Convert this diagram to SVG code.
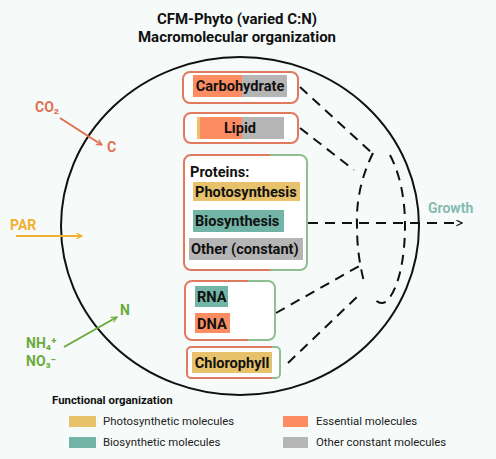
<svg xmlns="http://www.w3.org/2000/svg" width="496" height="459" viewBox="0 0 496 459">
<defs>
<style>
text{font-family:Roboto,"Liberation Sans",sans-serif;}
.title{font-size:15px;font-weight:bold;fill:#111;text-anchor:middle;}
.lbl{font-size:14.6px;font-weight:bold;fill:#111;}
.box{fill:#fff;stroke-width:2;}
.dash{fill:none;stroke:#111;stroke-width:2;stroke-dasharray:10 7;}
.leg{font-size:11.4px;fill:#222;}
.or{fill:#fc8d62;} .gy{fill:#b5b5b5;} .ye{fill:#e8c26a;} .te{fill:#72b5a7;}
</style>
<linearGradient id="g70" x1="0" y1="0" x2="1" y2="0"><stop offset="0.70" stop-color="#e07a5f"/><stop offset="0.70" stop-color="#8fbf90"/></linearGradient>
<linearGradient id="g91" x1="0" y1="0" x2="1" y2="0"><stop offset="0.91" stop-color="#e07a5f"/><stop offset="0.91" stop-color="#8fbf90"/></linearGradient>
<marker id="ak" viewBox="0 0 10 10" refX="9" refY="5" markerWidth="7" markerHeight="7" orient="auto" markerUnits="userSpaceOnUse"><path d="M1,1 L9,5 L1,9" fill="none" stroke="#111" stroke-width="1.6"/></marker>
<marker id="ao" viewBox="0 0 10 10" refX="9" refY="5" markerWidth="7" markerHeight="7" orient="auto" markerUnits="userSpaceOnUse"><path d="M1,1 L9,5 L1,9" fill="none" stroke="#e07050" stroke-width="1.6"/></marker>
<marker id="ay" viewBox="0 0 10 10" refX="9" refY="5" markerWidth="7" markerHeight="7" orient="auto" markerUnits="userSpaceOnUse"><path d="M1,1 L9,5 L1,9" fill="none" stroke="#f0b030" stroke-width="1.6"/></marker>
<marker id="ag" viewBox="0 0 10 10" refX="9" refY="5" markerWidth="7" markerHeight="7" orient="auto" markerUnits="userSpaceOnUse"><path d="M1,1 L9,5 L1,9" fill="none" stroke="#6aaa3a" stroke-width="1.6"/></marker>
</defs>
<rect width="496" height="459" fill="#f6faf9"/>
<text class="title" x="237" y="24">CFM-Phyto (varied C:N)</text>
<text class="title" x="237" y="42">Macromolecular organization</text>
<ellipse id="cell" cx="240" cy="226" rx="179" ry="169" fill="none" stroke="#111" stroke-width="2"/>

<g id="connectors">
<path class="dash" d="M300,87 L371,152"/>
<path class="dash" d="M300,128 L354,170"/>
<path class="dash" d="M373,153 C362,175 356,200 357,225 C357,250 360,265 364,282"/>
<path class="dash" d="M390,155 C402,178 405,205 405,225 C405,255 400,285 388,300 C383,305 377,303 374,298"/>
<path class="dash" d="M276,313 L361,265"/>
<path class="dash" d="M288,363 L357,297"/>
<path class="dash" d="M308,223 L462,223" marker-end="url(#ak)"/>
<path d="M60,118 L102,145" fill="none" stroke="#e07050" stroke-width="2" marker-end="url(#ao)"/>
<path d="M16,236 L82,236" fill="none" stroke="#f0b030" stroke-width="2" marker-end="url(#ay)"/>
<path d="M64,347 L117,317" fill="none" stroke="#6aaa3a" stroke-width="2" marker-end="url(#ag)"/>
</g>

<g id="co2">
<text x="35" y="112" font-size="14" font-weight="bold" fill="#e07050">CO₂</text>
<text x="107" y="152" font-size="14" font-weight="bold" fill="#e07050">C</text>
</g>
<g id="par"><text x="10" y="230" font-size="14" font-weight="bold" fill="#f0b030">PAR</text></g>
<g id="nitrogen">
<text x="120" y="315" font-size="14" font-weight="bold" fill="#6aaa3a">N</text>
<text x="26" y="348" font-size="14" font-weight="bold" fill="#6aaa3a">NH₄⁺</text>
<text x="26" y="366" font-size="14" font-weight="bold" fill="#6aaa3a">NO₃⁻</text>
</g>
<g id="growth"><text x="428" y="213" font-size="14" font-weight="bold" fill="#86bab0">Growth</text></g>

<g id="carbohydrate">
<rect class="box" x="183" y="72" width="115" height="31" rx="7" stroke="#e07a5f"/>
<rect class="or" x="193" y="75" width="49" height="22"/>
<rect class="gy" x="242" y="75" width="45" height="22"/>
<text class="lbl" x="240" y="91" text-anchor="middle">Carbohydrate</text>
</g>
<g id="lipid">
<rect class="box" x="184" y="113" width="114" height="30" rx="7" stroke="#e07a5f"/>
<rect class="ye" x="197" y="117" width="3" height="22"/>
<rect class="or" x="200" y="117" width="42" height="22"/>
<rect class="gy" x="242" y="117" width="42" height="22"/>
<text class="lbl" x="240" y="133" text-anchor="middle">Lipid</text>
</g>
<g id="proteins">
<rect class="box" x="184" y="155" width="123" height="115" rx="7" stroke="url(#g70)"/>
<text class="lbl" x="190" y="177">Proteins:</text>
<rect class="ye" x="193" y="182" width="107" height="19"/>
<text class="lbl" x="195" y="197">Photosynthesis</text>
<rect class="te" x="193" y="210" width="91" height="22"/>
<text class="lbl" x="195" y="226">Biosynthesis</text>
<rect class="gy" x="189" y="238" width="114" height="22"/>
<text class="lbl" x="191" y="254">Other (constant)</text>
</g>
<g id="nucleic">
<rect class="box" x="185" y="281" width="90" height="59" rx="7" stroke="url(#g70)"/>
<rect class="te" x="195" y="286" width="33" height="21"/>
<text class="lbl" x="197" y="302">RNA</text>
<rect class="or" x="195" y="313" width="35" height="20"/>
<text class="lbl" x="197" y="329">DNA</text>
</g>
<g id="chlorophyll">
<rect class="box" x="187" y="347" width="93" height="31" rx="4" stroke="url(#g91)"/>
<rect class="ye" x="192" y="352" width="80" height="21"/>
<text class="lbl" x="232" y="368" text-anchor="middle">Chlorophyll</text>
</g>

<g id="legend">
<text x="52" y="404" font-size="11.4" font-weight="bold" fill="#111">Functional organization</text>
<rect class="ye" x="69" y="416" width="27" height="11"/>
<text class="leg" x="103" y="425">Photosynthetic molecules</text>
<rect class="te" x="69" y="437" width="27" height="11"/>
<text class="leg" x="103" y="446">Biosynthetic molecules</text>
<rect class="or" x="283" y="416" width="25" height="11"/>
<text class="leg" x="316" y="425">Essential molecules</text>
<rect class="gy" x="283" y="437" width="25" height="11"/>
<text class="leg" x="316" y="446">Other constant molecules</text>
</g>
</svg>
